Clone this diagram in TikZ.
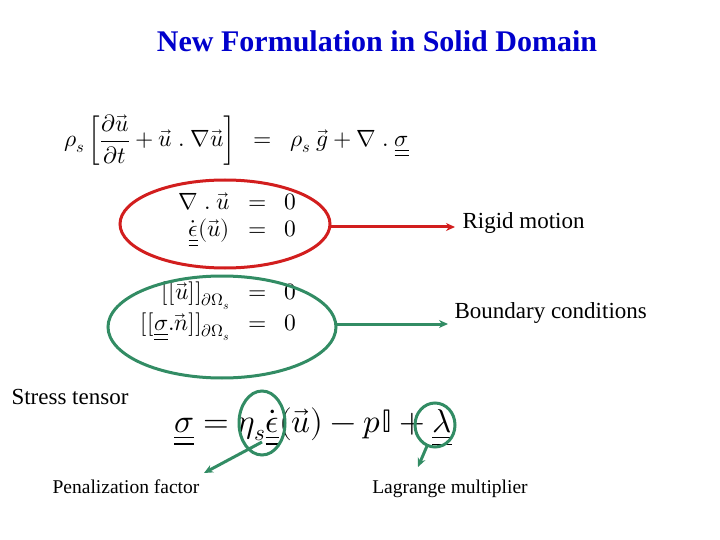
\documentclass[tikz,border=0pt]{standalone}
\usepackage{amsmath,amssymb}
\usepackage{fontspec}
\setmainfont{Liberation Serif}
\usepackage{unicode-math}
\setmathfont{Latin Modern Math}
\usetikzlibrary{arrows.meta}
\newcommand{\dul}[1]{\underline{\underline{#1}}}
\definecolor{myred}{RGB}{210,30,30}
\definecolor{mygreen}{RGB}{50,140,100}
\begin{document}
\begin{tikzpicture}[x=1pt,y=-1pt,
  lbl/.style={font=\fontsize{23}{26}\selectfont},
  small/.style={font=\fontsize{19.5}{22}\selectfont},
  eq/.style={font=\fontsize{23.5}{27}\selectfont},
  arr/.style={line width=3pt,-{Stealth[length=9pt,width=8pt]}}]
\useasboundingbox (0,0) rectangle (720,540);
\node[font=\bfseries\fontsize{30}{34}\selectfont, text=blue!80!black] (title) at (377,41) {New Formulation in Solid Domain};
\node[eq,anchor=west,inner sep=0] (e1) at (64,140) {$\rho_s\left[\dfrac{\partial\vec u}{\partial t}+\vec u\ .\ \nabla\vec u\right]\ \ =\ \ \rho_s\ \vec g+\nabla\ .\ \dul{\sigma}$};
\node[eq,anchor=east] (e2) at (300,202) {$\nabla\ .\ \vec u\ \ =\ \ 0$};
\node[eq,anchor=east] (e3) at (300,233) {$\dot{\dul{\epsilon}}(\vec u)\ \ =\ \ 0$};
\node[eq,anchor=east] (e4) at (300,296) {$[[\vec u]]_{\partial\Omega_s}\ \ =\ \ 0$};
\node[eq,anchor=east] (e5) at (300,327) {$[[\dul{\sigma}.\vec n]]_{\partial\Omega_s}\ \ =\ \ 0$};
\node[font=\fontsize{33}{38}\selectfont] (e6) at (313,427) {$\dul{\sigma}=\eta_s\dot{\dul{\epsilon}}(\vec u)-p\mathbb{I}+\dul{\lambda}$};
\draw[myred,line width=3pt] (225,224) ellipse[x radius=105,y radius=44];
\draw[mygreen,line width=3pt] (222,327) ellipse[x radius=114,y radius=51];
\draw[mygreen,line width=3pt] (262,423) ellipse[x radius=23,y radius=32];
\draw[mygreen,line width=3pt] (435,425) ellipse[x radius=20,y radius=22];
\node[lbl,anchor=west] (rm) at (459,223) {Rigid motion};
\node[lbl,anchor=west] (bc) at (451,313) {Boundary conditions};
\node[lbl,anchor=west] (st) at (8,397) {Stress tensor};
\node[small] (pf) at (126,487) {Penalization factor};
\node[small] (lm) at (450,489) {Lagrange multiplier};
\coordinate (r0) at (330,227); \coordinate (r1) at (455,227);
\coordinate (g0) at (336,324); \coordinate (g1) at (448,324);
\coordinate (p0) at (262,442); \coordinate (p1) at (204,473);
\coordinate (l0) at (427,446); \coordinate (l1) at (418,467);
\draw[arr,myred] (r0) -- (r1);
\draw[arr,mygreen] (g0) -- (g1);
\draw[arr,mygreen] (p0) -- (p1);
\draw[arr,mygreen] (l0) -- (l1);
\end{tikzpicture}
\end{document}
